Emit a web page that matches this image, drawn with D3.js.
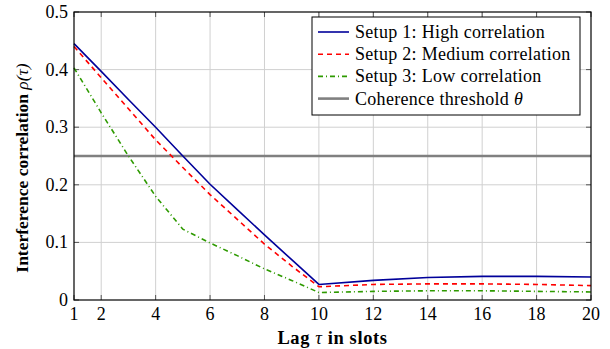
<!DOCTYPE html>
<html>
<head>
	<meta charset="utf-8">
	<title>Interference correlation</title>
	<script src="https://d3js.org/d3.v7.min.js"></script>
	<style>
		body { margin: 0; background: #fff; }
	</style>
</head>
<body>
	<script>
		var width = 610, height = 349;
		var margin = {left: 74, right: 19, top: 12, bottom: 49};
		var serif = "'Liberation Serif', 'Times New Roman', serif";

		// lag values and series
		var lags = [1, 2, 3, 4, 5, 6, 7, 8, 9, 10, 12, 14, 16, 18, 20];
		var setup1 = [0.445, 0.397, 0.348, 0.300, 0.250, 0.201, 0.157, 0.113, 0.070, 0.027, 0.034, 0.039, 0.041, 0.041, 0.040];
		var setup2 = [0.440, 0.386, 0.332, 0.278, 0.230, 0.183, 0.140, 0.097, 0.059, 0.023, 0.027, 0.028, 0.028, 0.027, 0.025];
		var setup3 = [0.403, 0.325, 0.250, 0.180, 0.123, 0.099, 0.077, 0.054, 0.034, 0.013, 0.015, 0.016, 0.016, 0.015, 0.014];
		var threshold = 0.25;

		var xTicks = [1, 2, 4, 6, 8, 10, 12, 14, 16, 18, 20];
		var yTicks = [0, 0.1, 0.2, 0.3, 0.4, 0.5];

		var series = [
			{name: "Setup 1: High correlation", values: setup1, color: "#00009a", dash: null},
			{name: "Setup 2: Medium correlation", values: setup2, color: "#ff0000", dash: "5,4"},
			{name: "Setup 3: Low correlation", values: setup3, color: "#2e9a00", dash: "5,3,1,3"}
		];

		var svg = d3.select("body").append("svg").attr("width", width).attr("height", height);

		var x = d3.scaleLinear().domain([1, 20]).range([margin.left, width - margin.right]);
		var y = d3.scaleLinear().domain([0, 0.5]).range([height - margin.bottom, margin.top]);

		// grid
		svg.append("g").selectAll("line").data(xTicks.slice(1, -1)).enter().append("line")
			.attr("x1", function(d){return x(d);}).attr("x2", function(d){return x(d);})
			.attr("y1", y(0)).attr("y2", y(0.5))
			.attr("stroke", "#d0d0d0").attr("stroke-width", 1);
		svg.append("g").selectAll("line").data(yTicks.slice(1, -1)).enter().append("line")
			.attr("y1", function(d){return y(d);}).attr("y2", function(d){return y(d);})
			.attr("x1", x(1)).attr("x2", x(20))
			.attr("stroke", "#d0d0d0").attr("stroke-width", 1);

		// inward ticks on all four sides
		var tk = 5;
		var tickG = svg.append("g").attr("stroke", "#555").attr("stroke-width", 1);
		xTicks.forEach(function(d){
			tickG.append("line").attr("x1", x(d)).attr("x2", x(d)).attr("y1", y(0)).attr("y2", y(0) - tk);
			tickG.append("line").attr("x1", x(d)).attr("x2", x(d)).attr("y1", y(0.5)).attr("y2", y(0.5) + tk);
		});
		yTicks.forEach(function(d){
			tickG.append("line").attr("y1", y(d)).attr("y2", y(d)).attr("x1", x(1)).attr("x2", x(1) + tk);
			tickG.append("line").attr("y1", y(d)).attr("y2", y(d)).attr("x1", x(20)).attr("x2", x(20) - tk);
		});

		// threshold
		svg.append("line")
			.attr("x1", x(1)).attr("x2", x(20)).attr("y1", y(threshold)).attr("y2", y(threshold))
			.attr("stroke", "#808080").attr("stroke-width", 2.6);

		var line = d3.line()
			.x(function(d, i){return x(lags[i]);})
			.y(function(d){return y(d);});

		svg.append("g").selectAll("path").data(series).enter().append("path")
			.attr("d", function(d){return line(d.values);})
			.attr("fill", "none")
			.attr("stroke", function(d){return d.color;})
			.attr("stroke-width", 1.6)
			.attr("stroke-dasharray", function(d){return d.dash;});

		// frame
		svg.append("rect")
			.attr("x", x(1)).attr("y", y(0.5))
			.attr("width", x(20) - x(1)).attr("height", y(0) - y(0.5))
			.attr("fill", "none").attr("stroke", "#000").attr("stroke-width", 1.2);

		// tick labels
		svg.append("g").selectAll("text").data(xTicks).enter().append("text")
			.style("font-family", serif)
			.attr("x", function(d){return x(d);}).attr("y", y(0) + 20)
			.attr("text-anchor", "middle").attr("font-size", 18)
			.text(function(d){return d;});
		svg.append("g").selectAll("text").data(yTicks).enter().append("text")
			.style("font-family", serif)
			.attr("x", x(1) - 6).attr("y", function(d){return y(d) + 6;})
			.attr("text-anchor", "end").attr("font-size", 18)
			.text(function(d){return d === 0 ? "0" : d3.format(".1f")(d);});

		// axis titles
		var xl = svg.append("text").style("font-family", serif)
			.attr("x", (x(1) + x(20)) / 2).attr("y", y(0) + 44)
			.attr("text-anchor", "middle").attr("font-size", 18.5).attr("font-weight", "bold")
			.attr("letter-spacing", 0.6);
		xl.append("tspan").text("Lag ");
		xl.append("tspan").attr("font-style", "italic").attr("font-weight", "normal").text("τ");
		xl.append("tspan").text(" in slots");

		var yl = svg.append("text").style("font-family", serif)
			.attr("transform", "translate(28,168) rotate(-90)")
			.attr("text-anchor", "middle").attr("font-size", 17.5).attr("font-weight", "bold");
		yl.append("tspan").text("Interference correlation ");
		yl.append("tspan").attr("font-style", "italic").attr("font-weight", "normal").text("ρ(τ)");

		// legend
		var legendItems = series.concat([{name: "Coherence threshold ", color: "#808080", dash: null, width: 2.6, sym: "θ"}]);
		var lg = svg.append("g").attr("transform", "translate(312,17)");
		lg.append("rect").attr("width", 268).attr("height", 98)
			.attr("fill", "#fff").attr("stroke", "#000").attr("stroke-width", 1);
		legendItems.forEach(function(d, i){
			var cy = 15 + i * 22.2;
			lg.append("line").attr("x1", 6).attr("x2", 37).attr("y1", cy).attr("y2", cy)
				.attr("stroke", d.color).attr("stroke-width", d.width || 1.6)
				.attr("stroke-dasharray", d.dash);
			var t = lg.append("text").style("font-family", serif)
				.attr("x", 43).attr("y", cy + 6).attr("font-size", 18)
				.attr("letter-spacing", 0.3).text(d.name);
			if (d.sym) t.append("tspan").attr("font-style", "italic").text(d.sym);
		});
	</script>
</body>
</html>
